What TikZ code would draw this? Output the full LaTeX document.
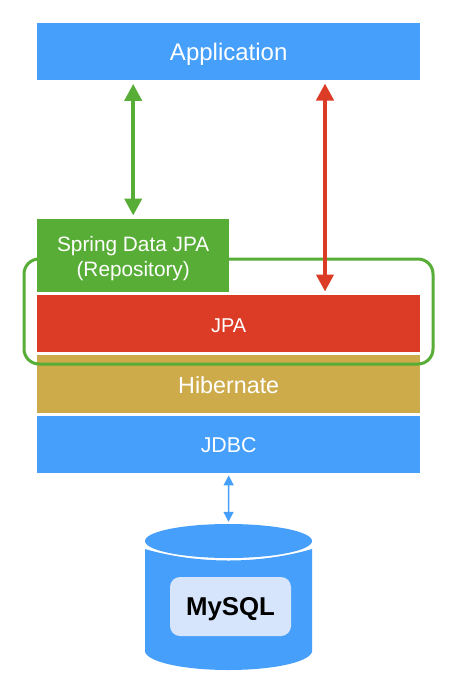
\documentclass[tikz,border=0pt]{standalone}
\usepackage{fontspec}
\setmainfont{Liberation Sans}
\usetikzlibrary{arrows.meta,shapes.geometric,calc}
\definecolor{blueA}{HTML}{459FFB}
\definecolor{greenA}{HTML}{57AD36}
\definecolor{redA}{HTML}{DC3B26}
\definecolor{goldA}{HTML}{CDAB4B}
\definecolor{paleA}{HTML}{D6E4FC}
\tikzset{
  x=1pt,y=-1pt,
  band/.style={fill=#1,minimum width=383pt,text=white,inner sep=0pt,anchor=north west,text depth=0pt},
  bigarrow/.style={draw=#1,line width=4pt,{Triangle[length=17pt,width=17pt]}-{Triangle[length=17pt,width=17pt]},shorten <=3.5pt,shorten >=3.5pt},
  smallarrow/.style={draw=#1,line width=1.5pt,{Triangle[length=10pt,width=10pt]}-{Triangle[length=10pt,width=10pt]},shorten <=2pt,shorten >=2pt},
}
\newcommand{\fs}[1]{\fontsize{#1}{#1}\selectfont}
\begin{document}
\begin{tikzpicture}
\useasboundingbox (0,0) rectangle (458,691);
\fill[white] (0,0) rectangle (458,691);
\node[band=blueA,minimum height=57pt,text height=17pt] (app) at (37,23) {\fs{24}Application};
\node[band=redA,minimum height=57pt,text height=17pt] (jpa) at (37,295) {\fs{20}JPA};
\node[band=goldA,minimum height=58pt,text height=19pt] (hib) at (37,355) {\fs{23.3}Hibernate};
\node[band=blueA,minimum height=57pt,text height=15pt] (jdbc) at (37,416) {\fs{21.4}JDBC};
\draw[greenA,line width=3pt,rounded corners=15pt] (24,259) rectangle (433,364);
\node[fill=greenA,text=white,inner sep=0pt,anchor=north west,minimum width=192pt,minimum height=73pt,align=center,font=\fontsize{20.8}{25}\selectfont] (spring) at (37,219) {\rule{0pt}{21pt}Spring Data JPA\\(Repository)};
\coordinate (redtop) at (325,80);
\coordinate (redbot) at (325,295);
\draw[bigarrow=greenA] (app.south -| spring.north) -- (spring.north);
\draw[bigarrow=redA] (redtop) -- (redbot);
% cylinder
\fill[blueA] (145,549) .. controls (165,555) and (195,560.5) .. (228.5,560.5) .. controls (262,560.5) and (292,555) .. (312,549) -- (312,652) .. controls (308,663) and (270,670) .. (228.5,670) .. controls (187,670) and (149,663) .. (145,652) -- cycle;
\node[ellipse,fill=blueA,minimum width=167pt,minimum height=34pt,inner sep=0pt] (dbtop) at (228.5,541) {};
\node[fill=paleA,rounded corners=10pt,minimum width=121pt,minimum height=59pt,inner sep=0pt,text height=18pt,text depth=0pt,font=\bfseries\fontsize{25.8}{26}\selectfont] (mysql) at (230.5,606.5) {MySQL};
\draw[smallarrow=blueA] (jdbc.south) -- (dbtop.north);
\end{tikzpicture}
\end{document}
